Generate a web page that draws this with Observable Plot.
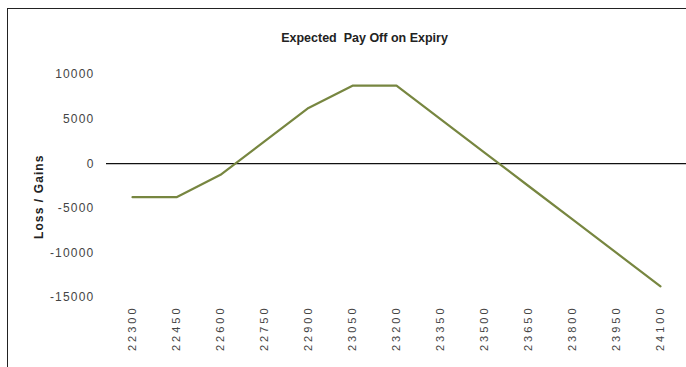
<!DOCTYPE html>
<html>
<head>
<meta charset="utf-8">
<script src="https://cdn.jsdelivr.net/npm/d3@7"></script>
<script src="https://cdn.jsdelivr.net/npm/@observablehq/plot@0.6"></script>
<style>
  html, body { margin: 0; padding: 0; background: #fff; }
  #wrap { position: relative; width: 686px; height: 367px; overflow: hidden; }
  #box {
    position: absolute; left: 7px; top: 8px; width: 700px; height: 400px;
    border-left: 1.5px solid #222; border-top: 1.5px solid #222;
    box-sizing: border-box;
  }
  #chart { position: absolute; left: 0; top: 0; }
  #chart svg { font-family: "Liberation Sans", Arial, sans-serif; }
</style>
</head>
<body>
<div id="wrap">
  <div id="box"></div>
  <div id="chart"></div>
</div>
<script>
// Strike prices on expiry
const strikes = ["22300", "22450", "22600", "22750", "22900", "23050", "23200",
                 "23350", "23500", "23650", "23800", "23950", "24100"];
// Payoff of the position at each strike
const payoff = [-3750, -3750, -1250, 2500, 6250, 8750, 8750,
                5000, 1250, -2500, -6250, -10000, -13750];
const yTicks = [10000, 5000, 0, -5000, -10000, -15000];

const rows = strikes.map((s, i) => ({strike: s, value: payoff[i]}));

const chart = Plot.plot({
  width: 686,
  height: 367,
  marginTop: 74,
  marginBottom: 70,
  marginLeft: 106,
  marginRight: 0,
  style: {background: "transparent", fontSize: "12px", color: "#333"},
  x: {type: "point", domain: strikes, padding: 0.5, label: null},
  y: {domain: [-15000, 10000], ticks: yTicks, label: null},
  marks: [
    Plot.axisX({tickRotate: -90, tickSize: 0, tickPadding: 8, fontSize: 11,
                fill: "#444"}),
    Plot.axisY({ticks: yTicks, tickSize: 0, tickPadding: 12, fontSize: 12,
                fill: "#444", tickFormat: d => String(d)}),
    Plot.ruleY([0], {stroke: "#111", strokeWidth: 1.3}),
    Plot.line(rows, {x: "strike", y: "value", stroke: "#778640", strokeWidth: 2.2}),
    Plot.text(["Expected  Pay Off on Expiry"], {
      frameAnchor: "top", lineAnchor: "middle", dy: -37, dx: -32,
      fontSize: 12.5, fontWeight: "bold", fill: "#222"
    }),
    Plot.text(["Loss / Gains"], {
      frameAnchor: "left", dx: -67, dy: 53, rotate: -90, fontSize: 12,
      fontWeight: "bold", fill: "#222"
    })
  ]
});

// Excel-style spaced digits on both axes
d3.select(chart).selectAll("g[aria-label='x-axis tick label'] text")
  .style("letter-spacing", "3px");
d3.select(chart).selectAll("g[aria-label='y-axis tick label'] text")
  .style("letter-spacing", "1.2px");
d3.select(chart).selectAll("g[aria-label='text'] text")
  .filter(function() { return this.textContent === "Loss / Gains"; })
  .style("letter-spacing", "1.1px");

document.getElementById("chart").appendChild(chart);
</script>
</body>
</html>
